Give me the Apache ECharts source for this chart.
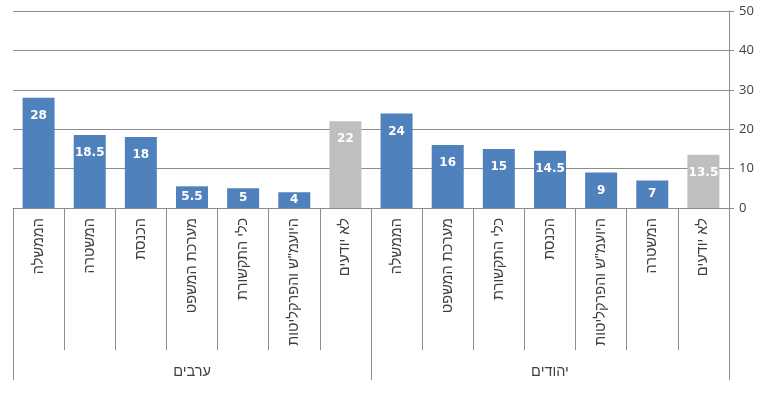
<!DOCTYPE html>
<html>
<head>
<meta charset="utf-8">
<script src="https://cdn.jsdelivr.net/npm/echarts@6/dist/echarts.min.js"></script>
<style>
  html, body { margin: 0; padding: 0; background: #fff; }
  #main { width: 768px; height: 397px; }
</style>
</head>
<body>
<div id="main"></div>
<script>
var groups = ['ערבים', 'יהודים'];

var arabCats = ['הממשלה', 'המשטרה', 'הכנסת', 'מערכת המשפט', 'כלי התקשורת', 'היועמ"ש והפרקליטות', 'לא יודעים'];
var arabVals = [28, 18.5, 18, 5.5, 5, 4, 22];

var jewCats = ['הממשלה', 'מערכת המשפט', 'כלי התקשורת', 'הכנסת', 'היועמ"ש והפרקליטות', 'המשטרה', 'לא יודעים'];
var jewVals = [24, 16, 15, 14.5, 9, 7, 13.5];

var yTicks = [0, 10, 20, 30, 40, 50];

var blue = '#4F81BD';
var grey = '#BFBFBF';
var lineGrey = '#8C8C8C';
var textCol = '#404040';
var hebFont = 'Liberation Sans, Arial, sans-serif';

var myChart = echarts.init(document.getElementById('main'));

var cats = arabCats.concat(jewCats);
var vals = arabVals.concat(jewVals);

var barData = vals.map(function (v, i) {
    var last = (cats[i] === 'לא יודעים');
    return {
        value: v,
        itemStyle: { color: last ? grey : blue },
        label: { position: v < 8 ? 'inside' : 'insideTop' }
    };
});

var option = {
    animation: false,
    grid: {
        left: 13,
        right: 39,
        top: 11,
        bottom: 189
    },
    xAxis: [
        {
            type: 'category',
            data: cats,
            position: 'bottom',
            axisLine: { show: true, lineStyle: { color: lineGrey, width: 1 } },
            axisTick: { show: true, interval: 0, length: 142, lineStyle: { color: lineGrey } },
            axisLabel: {
                interval: 0,
                rotate: 90,
                margin: 10,
                color: textCol,
                fontFamily: hebFont,
                fontSize: 14.5
            },
            splitLine: { show: false }
        },
        {
            type: 'category',
            data: groups,
            position: 'bottom',
            axisLine: { show: false },
            axisTick: { show: true, interval: 0, length: 172, lineStyle: { color: lineGrey } },
            axisLabel: {
                interval: 0,
                margin: 156,
                color: textCol,
                fontFamily: hebFont,
                fontSize: 14.5
            },
            splitLine: { show: false }
        }
    ],
    yAxis: {
        type: 'value',
        position: 'right',
        min: yTicks[0],
        max: yTicks[yTicks.length - 1],
        interval: 10,
        axisLine: { show: true, lineStyle: { color: lineGrey } },
        axisTick: { show: true, length: 5, lineStyle: { color: lineGrey } },
        axisLabel: {
            margin: 10,
            color: textCol,
            fontFamily: 'Open Sans, sans-serif',
            fontSize: 13
        },
        splitLine: { show: true, lineStyle: { color: lineGrey, width: 1 } }
    },
    series: [
        {
            type: 'bar',
            xAxisIndex: 0,
            barWidth: 32,
            data: barData,
            label: {
                show: true,
                distance: 12,
                color: '#fff',
                fontWeight: 'bold',
                fontFamily: 'DejaVu Sans, sans-serif',
                fontSize: 12
            }
        }
    ]
};

myChart.setOption(option);
</script>
</body>
</html>
